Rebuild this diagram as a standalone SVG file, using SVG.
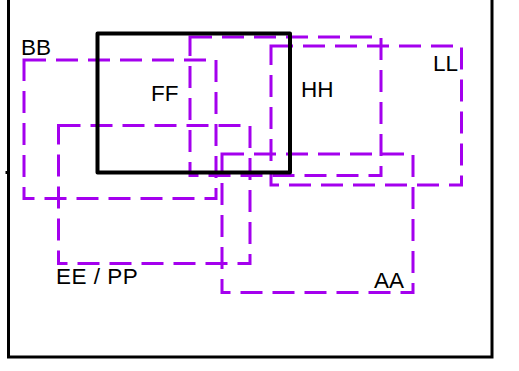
<svg xmlns="http://www.w3.org/2000/svg" width="519" height="371" viewBox="0 0 519 371">
  <defs>
    <style>
      .dash { fill: none; stroke: #a400ee; stroke-width: 3; stroke-dasharray: 22 10; }
      .solid { fill: none; stroke: #000; stroke-width: 4; stroke-linejoin: round; }
      .frame { fill: none; stroke: #000; stroke-width: 3; }
      .lbl { font-family: "Liberation Sans", Arial, sans-serif; font-size: 22.5px; fill: #000; }
    </style>
  </defs>
  <rect width="519" height="371" fill="#fff"/>
  <g id="frame">
    <rect class="frame" x="8.5" y="-10" width="483.5" height="367"/>
    <line x1="5.5" y1="172.5" x2="9" y2="172.5" stroke="#000" stroke-width="3"/>
  </g>
  <g id="connectors"/>
  <g id="BB">
    <rect class="dash" x="24" y="60" width="192" height="138.5"/>
    <text class="lbl" x="21" y="54.5">BB</text>
  </g>
  <g id="EE_PP">
    <rect class="dash" x="58.5" y="125.5" width="191.5" height="138"/>
    <text class="lbl" x="56" y="283.5" letter-spacing="0.5">EE / PP</text>
  </g>
  <g id="HH">
    <rect class="dash" x="190" y="37" width="191" height="138.5"/>
    <text class="lbl" x="301" y="97">HH</text>
  </g>
  <g id="LL">
    <rect class="dash" x="271" y="46" width="190.5" height="139"/>
    <text class="lbl" x="458" y="71" text-anchor="end">LL</text>
  </g>
  <g id="AA">
    <rect class="dash" x="222" y="154" width="191" height="138.5"/>
    <text class="lbl" x="374" y="288">AA</text>
  </g>
  <g id="FF">
    <rect class="solid" x="97.5" y="33.5" width="192.5" height="139"/>
    <text class="lbl" x="151" y="101">FF</text>
  </g>
</svg>
